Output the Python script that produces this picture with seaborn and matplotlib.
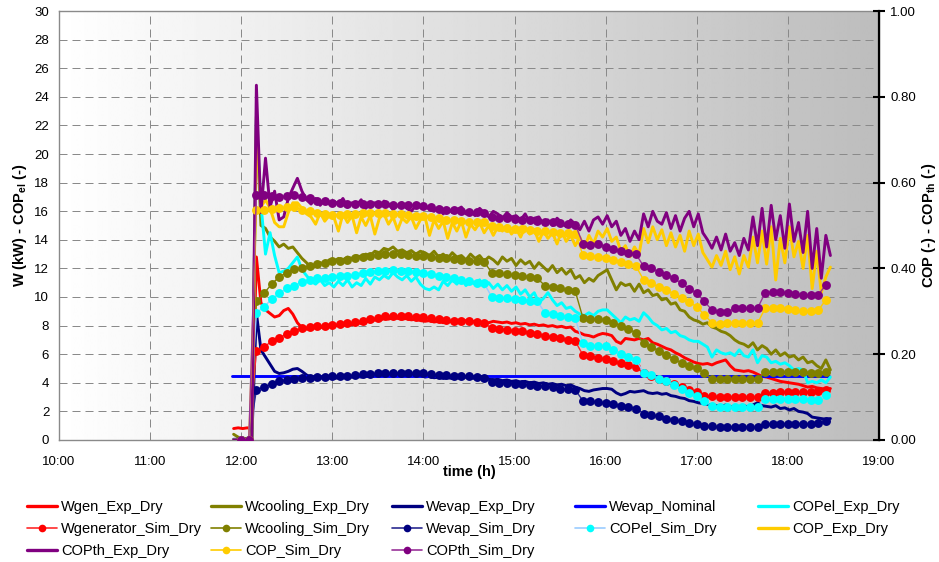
import numpy as np
import pandas as pd
import matplotlib
matplotlib.use("Agg")
import matplotlib.pyplot as plt
from matplotlib.lines import Line2D
from matplotlib.ticker import FormatStrFormatter
import seaborn as sns

# ---------------------------------------------------------------------------
# Measured series (experimental, logged every 3 min from 11:55)
# ---------------------------------------------------------------------------
exp_start = "11:55"
exp_step = "3min"

wgen_exp = [
    0.8, 0.85,
    0.8, 0.85, 0.8, 12.8, 9.6, 9.1, 8.85, 8.6, 8.7, 9.05, 9.2, 8.8, 8.2, 7.85, 7.75, 7.8, 7.9, 7.85, 7.95, 8.0,
    7.95, 8.05, 8.0, 8.1, 8.05, 8.2, 8.15, 8.3, 8.25, 8.4, 8.35, 8.5, 8.45, 8.55, 8.5, 8.45, 8.5, 8.4, 8.45, 8.35,
    8.3, 8.35, 8.25, 8.3, 8.2, 8.3, 8.25, 8.35, 8.3, 8.35, 8.25, 8.3, 8.2, 8.25, 8.2, 8.3, 8.25, 8.2, 8.25, 8.15,
    8.2, 8.1, 8.15, 8.05, 8.1, 8.0, 8.05, 7.95, 8.0, 7.9, 7.95, 7.85, 7.9, 7.6, 7.5, 7.35, 7.3, 7.2, 7.35, 7.45,
    7.4, 7.3, 6.9, 6.75, 7.1, 7.05, 7.0, 7.1, 7.0, 7.1, 6.8, 6.7, 6.55, 6.4, 6.3, 6.1, 5.95, 5.75, 5.6, 5.45,
    5.35, 5.3, 5.35, 5.25, 5.4, 5.5, 5.6, 5.2, 4.9, 4.85, 4.8, 4.85, 4.75, 4.6, 4.45, 4.4, 4.3, 4.2, 4.1, 4.05,
    4.0, 3.95, 3.9, 3.8, 3.7, 3.75, 3.65, 3.6, 3.55, 3.6,
]

wcooling_exp = [
    0.4, 0.2,
    0.1, 0.1, 0.1, 22.6, 15.0, 14.8, 14.2, 13.9, 13.5, 13.7, 13.4, 13.5, 13.1, 12.7, 12.4, 12.0, 12.2, 12.4, 12.3, 12.6,
    12.5, 12.7, 12.6, 12.8, 12.7, 12.9, 12.8, 13.0, 12.9, 13.2, 13.1, 13.4, 13.3, 13.5, 13.2, 13.3, 13.1, 13.25, 13.0, 13.2,
    13.1, 12.9, 13.2, 12.8, 13.0, 12.7, 13.1, 12.8, 12.9, 12.6, 13.0, 12.7, 12.9, 12.5, 12.8, 12.6, 12.3, 12.8, 12.5, 12.7,
    12.2, 12.6, 12.3, 12.5, 12.0, 12.4, 12.1, 11.8, 12.2, 11.7, 12.0, 11.6, 11.9, 11.3, 11.5, 11.0, 11.3, 11.1, 11.5, 11.7,
    11.9, 11.2, 10.5, 11.0, 10.8, 10.9, 10.4, 10.9, 10.3, 10.5, 10.1, 10.2, 9.8, 9.9, 9.5, 9.6, 9.1, 9.0, 8.6, 8.4,
    8.3, 8.1, 8.2, 7.9, 7.8, 7.6, 7.5, 7.3, 7.0, 6.8, 6.7, 6.5, 6.8, 6.3, 6.6, 6.4, 6.0, 6.3, 5.9, 6.1,
    5.8, 5.9, 5.6, 5.8, 5.4, 5.5, 5.2, 5.0, 5.6, 4.9,
]

wevap_exp = [
    0.05, 0.05,
    0.05, 0.05, 0.1, 8.9, 6.3, 5.8, 5.3, 4.8, 4.65, 4.7, 4.8, 4.95, 5.0, 4.8, 4.55, 4.4, 4.35, 4.35, 4.3, 4.35,
    4.3, 4.35, 4.4, 4.35, 4.4, 4.45, 4.4, 4.45, 4.5, 4.5, 4.55, 4.5, 4.55, 4.6, 4.55, 4.6, 4.55, 4.6, 4.5, 4.55,
    4.4, 4.45, 4.35, 4.4, 4.3, 4.35, 4.3, 4.35, 4.3, 4.4, 4.35, 4.3, 4.35, 4.3, 4.25, 4.2, 4.25, 4.15, 4.2, 4.1,
    4.15, 4.05, 4.1, 4.0, 4.05, 3.95, 4.0, 3.9, 3.95, 3.85, 3.9, 3.8, 3.85, 3.7, 3.6, 3.45, 3.4, 3.5, 3.55, 3.6,
    3.6, 3.55, 3.3, 3.15, 3.25, 3.4, 3.35, 3.4, 3.45, 3.3, 3.25, 3.3, 3.2, 3.25, 3.1, 3.05, 2.95, 2.9, 2.75, 2.7,
    2.6, 2.55, 2.5, 2.45, 2.4, 2.35, 2.45, 2.3, 2.35, 2.3, 2.4, 2.3, 2.45, 2.6, 2.4, 2.35, 2.3, 2.4, 2.2, 2.25,
    2.1, 2.2, 2.0, 1.95, 1.85, 1.6, 1.55, 1.5, 1.45, 1.5,
]

copel_exp = [
    0.0, 0.0,
    0.0, 0.0, 0.1, 22.4, 16.5, 13.0, 14.5, 12.9, 11.7, 11.8, 12.0, 12.4, 12.8, 11.9, 11.5, 11.1, 10.9, 11.2, 10.8, 11.0,
    10.7, 11.1, 10.8, 11.2, 10.7, 11.0, 10.8, 11.3, 10.9, 11.4, 11.2, 11.5, 11.3, 11.7, 11.4, 11.2, 11.5, 11.1, 11.4, 10.9,
    10.6, 10.5, 10.7, 10.5, 11.1, 10.8, 11.2, 10.9, 11.3, 10.8, 11.1, 10.9, 11.2, 10.7, 11.0, 10.6, 10.9, 10.5, 10.8, 10.4,
    10.7, 10.2, 10.5, 10.0, 10.3, 9.6, 9.9, 10.3, 9.8, 9.4, 9.6, 9.2, 9.3, 9.0, 8.8, 8.7, 8.9, 8.7, 9.0, 9.1,
    9.1, 8.8, 8.5, 8.2, 8.6, 8.4, 8.5, 8.3, 8.9, 8.6, 8.2, 8.0, 7.7, 7.8, 7.5, 7.6, 7.3, 7.2, 7.0, 6.9,
    6.9, 6.7, 6.5, 5.8, 6.3, 6.1, 6.0, 6.1, 5.9, 6.3, 5.9, 5.8, 6.3, 5.4, 5.9, 5.8, 5.4, 5.5, 5.3, 5.4,
    5.2, 4.9, 5.0, 4.9, 4.0, 4.1, 4.0, 4.2, 4.0, 4.4,
]

cop_exp = [
    0.0, 0.0,
    0.0, 0.0, 0.0, 0.727, 0.543, 0.560, 0.540, 0.507, 0.497, 0.497, 0.530, 0.553, 0.553, 0.540, 0.527, 0.520, 0.503, 0.530, 0.510, 0.523,
    0.520, 0.487, 0.527, 0.507, 0.523, 0.483, 0.520, 0.500, 0.523, 0.480, 0.517, 0.527, 0.503, 0.520, 0.490, 0.517, 0.507, 0.520, 0.493, 0.513,
    0.520, 0.477, 0.513, 0.493, 0.510, 0.470, 0.507, 0.487, 0.510, 0.473, 0.503, 0.490, 0.507, 0.483, 0.500, 0.477, 0.497, 0.487, 0.500, 0.480,
    0.493, 0.473, 0.497, 0.480, 0.490, 0.463, 0.487, 0.470, 0.483, 0.457, 0.487, 0.463, 0.477, 0.453, 0.473, 0.447, 0.477, 0.457, 0.487, 0.473,
    0.493, 0.463, 0.473, 0.440, 0.453, 0.427, 0.450, 0.433, 0.493, 0.460, 0.497, 0.467, 0.490, 0.453, 0.483, 0.450, 0.477, 0.440, 0.487, 0.453,
    0.480, 0.437, 0.420, 0.403, 0.430, 0.407, 0.440, 0.397, 0.427, 0.387, 0.430, 0.403, 0.473, 0.413, 0.487, 0.410, 0.497, 0.373, 0.470, 0.413,
    0.497, 0.427, 0.463, 0.400, 0.477, 0.353, 0.440, 0.343, 0.380, 0.403,
]

copth_exp = [
    0.0, 0.0,
    0.0, 0.0, 0.0, 0.827, 0.530, 0.657, 0.543, 0.580, 0.513, 0.520, 0.563, 0.587, 0.610, 0.580, 0.560, 0.550, 0.563, 0.547, 0.560, 0.550,
    0.557, 0.550, 0.563, 0.543, 0.553, 0.547, 0.560, 0.540, 0.550, 0.553, 0.543, 0.557, 0.550, 0.537, 0.547, 0.553, 0.540, 0.533, 0.547, 0.543,
    0.547, 0.537, 0.533, 0.543, 0.527, 0.540, 0.530, 0.537, 0.543, 0.527, 0.533, 0.523, 0.540, 0.530, 0.520, 0.533, 0.527, 0.517, 0.530, 0.520,
    0.523, 0.513, 0.527, 0.507, 0.517, 0.520, 0.503, 0.513, 0.500, 0.517, 0.507, 0.497, 0.513, 0.503, 0.490, 0.510, 0.487, 0.513, 0.520, 0.503,
    0.523, 0.497, 0.510, 0.477, 0.493, 0.463, 0.487, 0.467, 0.527, 0.497, 0.533, 0.510, 0.503, 0.530, 0.493, 0.523, 0.487, 0.517, 0.533, 0.497,
    0.527, 0.483, 0.467, 0.447, 0.473, 0.443, 0.480, 0.440, 0.460, 0.430, 0.470, 0.443, 0.520, 0.453, 0.540, 0.450, 0.547, 0.467, 0.523, 0.447,
    0.550, 0.463, 0.507, 0.437, 0.533, 0.400, 0.493, 0.377, 0.477, 0.430,
]

# Nominal evaporator capacity
nominal_time = ["11:54", "18:27"]
wevap_nominal = [4.5, 4.5]

# ---------------------------------------------------------------------------
# Simulated series (model output every 5 min from 12:00)
# ---------------------------------------------------------------------------
sim_start = "12:00"
sim_step = "5min"

wgenerator_sim = [
    0.0, 0.0, 6.2, 6.5, 6.9, 7.15, 7.4, 7.6, 7.8, 7.9, 7.95, 8.0,
    8.05, 8.1, 8.15, 8.25, 8.35, 8.45, 8.55, 8.65, 8.7, 8.7, 8.65, 8.6,
    8.6, 8.5, 8.45, 8.4, 8.35, 8.3, 8.3, 8.25, 8.2, 7.8, 7.75, 7.7,
    7.65, 7.6, 7.5, 7.4, 7.3, 7.2, 7.1, 7.0, 6.9, 5.95, 5.85, 5.75,
    5.65, 5.5, 5.35, 5.25, 5.1, 4.65, 4.5, 4.3, 4.1, 3.9, 3.7, 3.5,
    3.35, 3.1, 3.05, 3.0, 3.0, 3.0, 3.0, 3.0, 3.0, 3.3, 3.3, 3.35,
    3.35, 3.35, 3.35, 3.35, 3.4, 3.5,
]

wcooling_sim = [
    0.0, 0.0, 9.7, 10.25, 10.9, 11.4, 11.7, 11.95, 12.05, 12.2, 12.3, 12.4,
    12.5, 12.55, 12.6, 12.7, 12.8, 12.9, 12.95, 13.0, 13.0, 13.0, 12.95, 12.9,
    12.85, 12.8, 12.75, 12.7, 12.65, 12.6, 12.55, 12.5, 12.45, 11.7, 11.65, 11.6,
    11.55, 11.5, 11.4, 11.3, 10.8, 10.7, 10.6, 10.5, 10.4, 8.55, 8.45, 8.45,
    8.4, 8.2, 8.0, 7.75, 7.5, 6.75, 6.5, 6.25, 5.95, 5.65, 5.4, 5.2,
    5.0, 4.65, 4.3, 4.25, 4.25, 4.25, 4.25, 4.25, 4.25, 4.75, 4.75, 4.75,
    4.75, 4.75, 4.75, 4.7, 4.7, 4.75,
]

wevap_sim = [
    0.0, 0.0, 3.5, 3.7, 3.9, 4.1, 4.2, 4.3, 4.35, 4.35, 4.4, 4.4,
    4.45, 4.5, 4.5, 4.55, 4.6, 4.6, 4.65, 4.65, 4.7, 4.7, 4.7, 4.65,
    4.65, 4.6, 4.55, 4.55, 4.5, 4.5, 4.45, 4.4, 4.35, 4.05, 4.0, 4.0,
    3.95, 3.9, 3.85, 3.8, 3.75, 3.7, 3.6, 3.55, 3.5, 2.75, 2.7, 2.65,
    2.6, 2.5, 2.4, 2.3, 2.2, 1.85, 1.75, 1.65, 1.5, 1.4, 1.3, 1.2,
    1.1, 1.0, 0.95, 0.9, 0.9, 0.9, 0.9, 0.9, 0.9, 1.1, 1.12, 1.15,
    1.15, 1.15, 1.15, 1.15, 1.2, 1.3,
]

copel_sim = [
    0.0, 0.0, 8.9, 9.3, 9.85, 10.25, 10.6, 10.8, 11.05, 11.2, 11.3, 11.35,
    11.4, 11.45, 11.5, 11.55, 11.65, 11.75, 11.8, 11.85, 11.9, 11.85, 11.8, 11.75,
    11.7, 11.6, 11.5, 11.4, 11.3, 11.2, 11.1, 11.0, 10.95, 10.0, 9.95, 9.9,
    9.85, 9.8, 9.75, 9.7, 8.9, 8.8, 8.7, 8.6, 8.5, 6.75, 6.55, 6.6,
    6.55, 6.3, 6.0, 5.8, 5.6, 4.7, 4.55, 4.3, 4.1, 3.85, 3.55, 3.3,
    3.05, 2.7, 2.4, 2.3, 2.3, 2.3, 2.3, 2.3, 2.3, 2.85, 2.85, 2.85,
    2.85, 2.85, 2.85, 2.8, 2.8, 3.15,
]

cop_sim = [
    0.0, 0.0, 0.537, 0.537, 0.538, 0.540, 0.542, 0.542, 0.537, 0.533, 0.530, 0.527,
    0.525, 0.525, 0.527, 0.527, 0.528, 0.528, 0.528, 0.528, 0.527, 0.527, 0.525, 0.523,
    0.523, 0.520, 0.517, 0.513, 0.512, 0.510, 0.508, 0.507, 0.507, 0.498, 0.497, 0.495,
    0.493, 0.492, 0.490, 0.488, 0.487, 0.485, 0.483, 0.482, 0.480, 0.432, 0.428, 0.427,
    0.425, 0.420, 0.415, 0.410, 0.405, 0.373, 0.365, 0.357, 0.350, 0.340, 0.332, 0.322,
    0.310, 0.292, 0.273, 0.270, 0.272, 0.272, 0.272, 0.272, 0.272, 0.307, 0.307, 0.307,
    0.305, 0.302, 0.300, 0.300, 0.302, 0.327,
]

copth_sim = [
    0.0, 0.0, 0.572, 0.572, 0.568, 0.567, 0.568, 0.572, 0.567, 0.563, 0.558, 0.558,
    0.553, 0.552, 0.550, 0.550, 0.550, 0.550, 0.550, 0.550, 0.548, 0.548, 0.547, 0.547,
    0.545, 0.542, 0.538, 0.537, 0.535, 0.533, 0.532, 0.532, 0.530, 0.520, 0.518, 0.517,
    0.515, 0.513, 0.512, 0.510, 0.508, 0.507, 0.505, 0.503, 0.502, 0.458, 0.455, 0.457,
    0.450, 0.445, 0.440, 0.437, 0.433, 0.405, 0.400, 0.392, 0.385, 0.377, 0.365, 0.353,
    0.342, 0.323, 0.303, 0.298, 0.298, 0.307, 0.307, 0.307, 0.307, 0.343, 0.345, 0.345,
    0.343, 0.340, 0.338, 0.338, 0.338, 0.362,
]

hour_ticks = list(range(10, 20))
hour_labels = [f"{h}:00" for h in hour_ticks]
left_ticks = list(range(0, 31, 2))
right_ticks = [0.0, 0.2, 0.4, 0.6, 0.8, 1.0]


def clock_hours(stamps):
    stamps = pd.to_datetime(stamps, format="%H:%M") if isinstance(stamps, list) else stamps
    return np.asarray(stamps.hour + stamps.minute / 60.0, dtype=float)


exp_t = clock_hours(pd.date_range("2000-01-01 " + exp_start, periods=len(wgen_exp), freq=exp_step))
sim_t = clock_hours(pd.date_range("2000-01-01 " + sim_start, periods=len(wgenerator_sim), freq=sim_step))
nom_t = clock_hours(nominal_time)

# ---------------------------------------------------------------------------
# Styling
# ---------------------------------------------------------------------------
sns.set_theme(style="white")
plt.rcParams["font.family"] = ["Liberation Sans", "DejaVu Sans"]
plt.rcParams["mathtext.fontset"] = "custom"
plt.rcParams["mathtext.rm"] = "Liberation Sans"
plt.rcParams["mathtext.bf"] = "Liberation Sans:bold"
plt.rcParams["text.color"] = "black"
plt.rcParams["axes.labelcolor"] = "black"
plt.rcParams["xtick.color"] = "black"
plt.rcParams["ytick.color"] = "black"

fig = plt.figure(figsize=(9.39, 5.62), dpi=100)
ax = fig.add_axes([0.0628, 0.2171, 0.8733, 0.7633])

# light-to-grey horizontal gradient behind the plot
grad = np.linspace(1.0, 0.74, 512).reshape(1, -1)
ax.imshow(grad, cmap="gray", vmin=0, vmax=1, extent=[0, 1, 0, 1],
          transform=ax.transAxes, aspect="auto", zorder=-5, interpolation="bilinear")

EXP_LW = 2.1
SIM_LW = 1.0
MS = 6.4

C = {
    "red": "#FF0000", "olive": "#808000", "navy": "#000080", "blue": "#0000FF",
    "cyan": "#00FFFF", "gold": "#FFCC00", "purple": "#800080",
}
SIM_LINE = {
    "red": "#FF2A2A", "olive": "#808000", "navy": "#2A2A90",
    "cyan": "#99CCFF", "gold": "#FFCC00", "purple": "#993399",
}


def exp_line(axis, t, v, color):
    sns.lineplot(x=t, y=v, ax=axis, color=color, linewidth=EXP_LW,
                 estimator=None, sort=False, legend=False)


def sim_line(axis, t, v, key):
    sns.lineplot(x=t, y=v, ax=axis, color=SIM_LINE[key], linewidth=SIM_LW,
                 marker="o", markersize=MS, markerfacecolor=C[key],
                 markeredgecolor=C[key], markeredgewidth=0,
                 estimator=None, sort=False, legend=False)


# left axis: powers and electrical COP
exp_line(ax, exp_t, wgen_exp, C["red"])
exp_line(ax, exp_t, wcooling_exp, C["olive"])
exp_line(ax, exp_t, wevap_exp, C["navy"])
exp_line(ax, nom_t, wevap_nominal, C["blue"])
exp_line(ax, exp_t, copel_exp, C["cyan"])
sim_line(ax, sim_t, wgenerator_sim, "red")
sim_line(ax, sim_t, wcooling_sim, "olive")
sim_line(ax, sim_t, wevap_sim, "navy")
sim_line(ax, sim_t, copel_sim, "cyan")

ax.set_xlim(10, 19)
ax.set_ylim(0, 30)
ax.set_xticks(hour_ticks)
ax.set_xticklabels(hour_labels)
ax.set_yticks(left_ticks)
ax.tick_params(axis="both", length=0, labelsize=9.5)
ax.tick_params(axis="x", pad=11.5)
ax.tick_params(axis="y", pad=7)
ax.grid(True, which="major", color="#8a8a8a", linewidth=0.72, linestyle=(0, (8, 5)))
ax.set_axisbelow(True)
for side in ("left", "top", "bottom", "right"):
    ax.spines[side].set_color("#8a8a8a")
    ax.spines[side].set_linewidth(1.0)
ax.set_xlabel("time (h)", fontsize=10.5, fontweight="bold", labelpad=-2)
ax.set_ylabel(r"W (kW) - COP$_{\mathbf{el}}$ (-)", fontsize=10.5, fontweight="bold", labelpad=4)

# right axis: COP and thermal COP
ax2 = ax.twinx()
exp_line(ax2, exp_t, cop_exp, C["gold"])
exp_line(ax2, exp_t, copth_exp, C["purple"])
sim_line(ax2, sim_t, cop_sim, "gold")
sim_line(ax2, sim_t, copth_sim, "purple")
ax2.set_xlim(10, 19)
ax2.set_ylim(0, 1.0)
ax2.set_yticks(right_ticks)
ax2.yaxis.set_major_formatter(FormatStrFormatter("%.2f"))
ax2.tick_params(axis="y", direction="inout", length=8, width=1.5, labelsize=9.5, pad=4)
ax2.grid(False)
for side in ("left", "top", "bottom"):
    ax2.spines[side].set_visible(False)
ax2.spines["right"].set_color("black")
ax2.spines["right"].set_linewidth(1.6)
ax2.set_ylabel(r"COP (-) - COP$_{\mathbf{th}}$ (-)", fontsize=10.5, fontweight="bold", labelpad=3)

# ---------------------------------------------------------------------------
# Legend: five evenly spaced columns under the plot
# ---------------------------------------------------------------------------
def h_exp(color):
    return Line2D([], [], color=color, linewidth=2.4)


def h_sim(key):
    return Line2D([], [], color=SIM_LINE[key], linewidth=1.2, marker="o", markersize=5.5,
                  markerfacecolor=C[key], markeredgecolor=C[key], markeredgewidth=0)


columns = [
    [(h_exp(C["red"]), "Wgen_Exp_Dry"), (h_sim("red"), "Wgenerator_Sim_Dry"), (h_exp(C["purple"]), "COPth_Exp_Dry")],
    [(h_exp(C["olive"]), "Wcooling_Exp_Dry"), (h_sim("olive"), "Wcooling_Sim_Dry"), (h_sim("gold"), "COP_Sim_Dry")],
    [(h_exp(C["navy"]), "Wevap_Exp_Dry"), (h_sim("navy"), "Wevap_Sim_Dry"), (h_sim("purple"), "COPth_Sim_Dry")],
    [(h_exp(C["blue"]), "Wevap_Nominal"), (h_sim("cyan"), "COPel_Sim_Dry")],
    [(h_exp(C["cyan"]), "COPel_Exp_Dry"), (h_exp(C["gold"]), "COP_Exp_Dry")],
]
col_x = [27, 211, 392, 575, 758]
for x0, entries in zip(col_x, columns):
    fig.legend(handles=[e[0] for e in entries], labels=[e[1] for e in entries],
               loc="upper left", bbox_to_anchor=(x0 / 939, 1 - 500 / 562),
               bbox_transform=fig.transFigure, frameon=False, fontsize=10.5,
               handlelength=2.05, handletextpad=0.3, labelspacing=0.56,
               borderpad=0, borderaxespad=0)

fig.savefig("out.png", dpi=100)
